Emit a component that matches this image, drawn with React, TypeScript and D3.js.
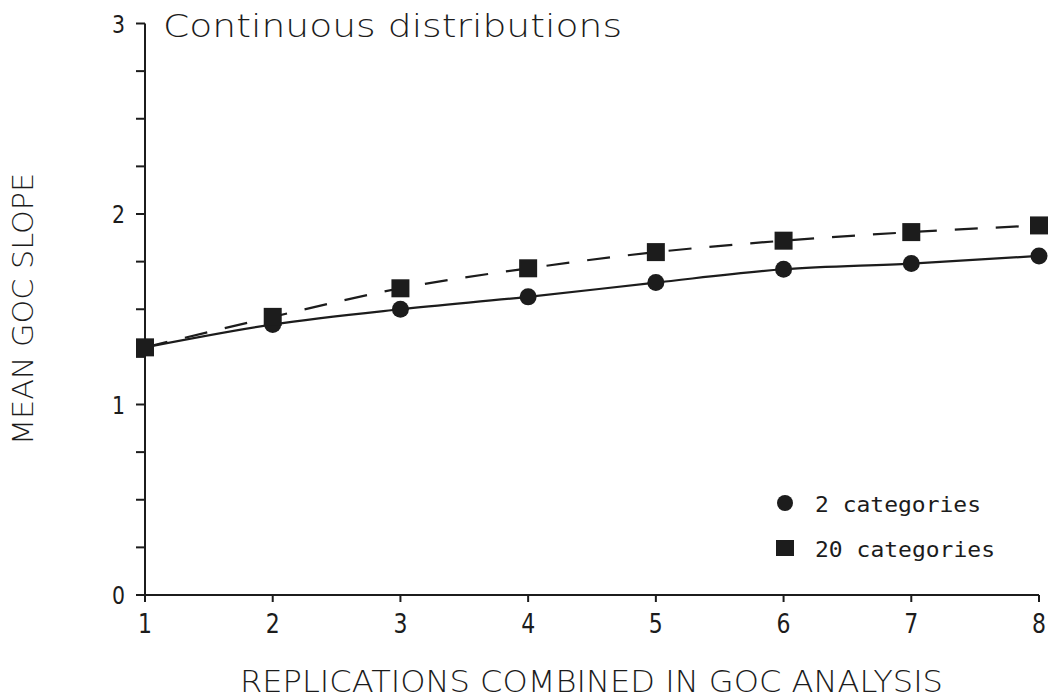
import React from "react";
import * as d3 from "d3";

const xValues = [1, 2, 3, 4, 5, 6, 7, 8];
const cat2 = [1.3, 1.42, 1.5, 1.565, 1.64, 1.71, 1.74, 1.78];
const cat20 = [1.3, 1.46, 1.61, 1.715, 1.8, 1.86, 1.905, 1.94];
const yTickLabels = [0, 1, 2, 3];
const yMinorTicks = d3.range(0, 3.0001, 0.25);
const titleText = "Continuous distributions";
const xTitle = "REPLICATIONS COMBINED IN GOC ANALYSIS";
const yTitle = "MEAN GOC SLOPE";
const legendLabels = ["2 categories", "20 categories"];

const INK = "#1c1c1c";
const FONT = "'DejaVu Sans', sans-serif";
const MONO = "'DejaVu Sans Mono', monospace";

export default function App() {
  const x = d3.scaleLinear().domain([1, 8]).range([145, 1039]);
  const y = d3.scaleLinear().domain([0, 3]).range([595, 23.5]);

  const line = d3
    .line<number>()
    .x((_, i) => x(xValues[i]))
    .y((d) => y(d))
    .curve(d3.curveMonotoneX);

  return (
    <svg
      width={1057}
      height={700}
      style={{ position: "absolute", left: 0, top: 0, background: "#fff" }}
    >
      <rect x={0} y={0} width={1057} height={700} fill="#fff" />
      {/* axes */}
      <line x1={x(1)} x2={x(1)} y1={y(3)} y2={y(0)} stroke={INK} strokeWidth={2} />
      <line x1={x(1)} x2={x(8)} y1={y(0)} y2={y(0)} stroke={INK} strokeWidth={2} />
      {yMinorTicks.map((t) => (
        <line key={"yt" + t} x1={x(1) - 9} x2={x(1)} y1={y(t)} y2={y(t)} stroke={INK} strokeWidth={2} />
      ))}
      {xValues.map((v) => (
        <line key={"xt" + v} x1={x(v)} x2={x(v)} y1={y(0)} y2={y(0) + 7} stroke={INK} strokeWidth={2} />
      ))}
      {yTickLabels.map((t) => (
        <text
          key={"yl" + t}
          x={125}
          y={y(t) + 9}
          textAnchor="end"
          fontFamily={FONT}
          fontSize={25}
          fill={INK}
          textLength={13}
          lengthAdjust="spacingAndGlyphs"
        >
          {t}
        </text>
      ))}
      {xValues.map((v) => (
        <text
          key={"xl" + v}
          x={x(v)}
          y={633}
          textAnchor="middle"
          fontFamily={FONT}
          fontSize={27}
          fill={INK}
          textLength={14}
          lengthAdjust="spacingAndGlyphs"
        >
          {v}
        </text>
      ))}
      {/* titles */}
      <text
        x={163}
        y={37}
        fontFamily={FONT}
        fontSize={32}
        fill={INK}
        textLength={459}
        lengthAdjust="spacingAndGlyphs"
        fontWeight={300}
      >
        {titleText}
      </text>
      <text
        x={240}
        y={692}
        fontFamily={FONT}
        fontSize={31}
        fill={INK}
        textLength={703}
        lengthAdjust="spacingAndGlyphs"
        fontWeight={300}
      >
        {xTitle}
      </text>
      <text
        transform="translate(33,445) rotate(-90)"
        fontFamily={FONT}
        fontSize={29}
        fill={INK}
        textLength={272}
        lengthAdjust="spacingAndGlyphs"
        fontWeight={300}
      >
        {yTitle}
      </text>
      {/* series lines */}
      <path d={line(cat2) || ""} fill="none" stroke={INK} strokeWidth={2.2} />
      <path d={line(cat20) || ""} fill="none" stroke={INK} strokeWidth={2.2} strokeDasharray="23 18" />
      {/* markers */}
      {cat2.map((v, i) => (
        <circle key={"c" + i} cx={x(xValues[i])} cy={y(v)} r={8.5} fill={INK} />
      ))}
      {cat20.map((v, i) => (
        <rect key={"s" + i} x={x(xValues[i]) - 9} y={y(v) - 9} width={18} height={18} fill={INK} />
      ))}
      {/* legend */}
      <circle cx={785} cy={503} r={8} fill={INK} />
      <text x={815} y={512} fontFamily={MONO} fontSize={21} fill={INK} textLength={166} lengthAdjust="spacingAndGlyphs">
        {legendLabels[0]}
      </text>
      <rect x={776} y={540} width={18} height={16} fill={INK} />
      <text x={815} y={557} fontFamily={MONO} fontSize={21} fill={INK} textLength={180} lengthAdjust="spacingAndGlyphs">
        {legendLabels[1]}
      </text>
    </svg>
  );
}
